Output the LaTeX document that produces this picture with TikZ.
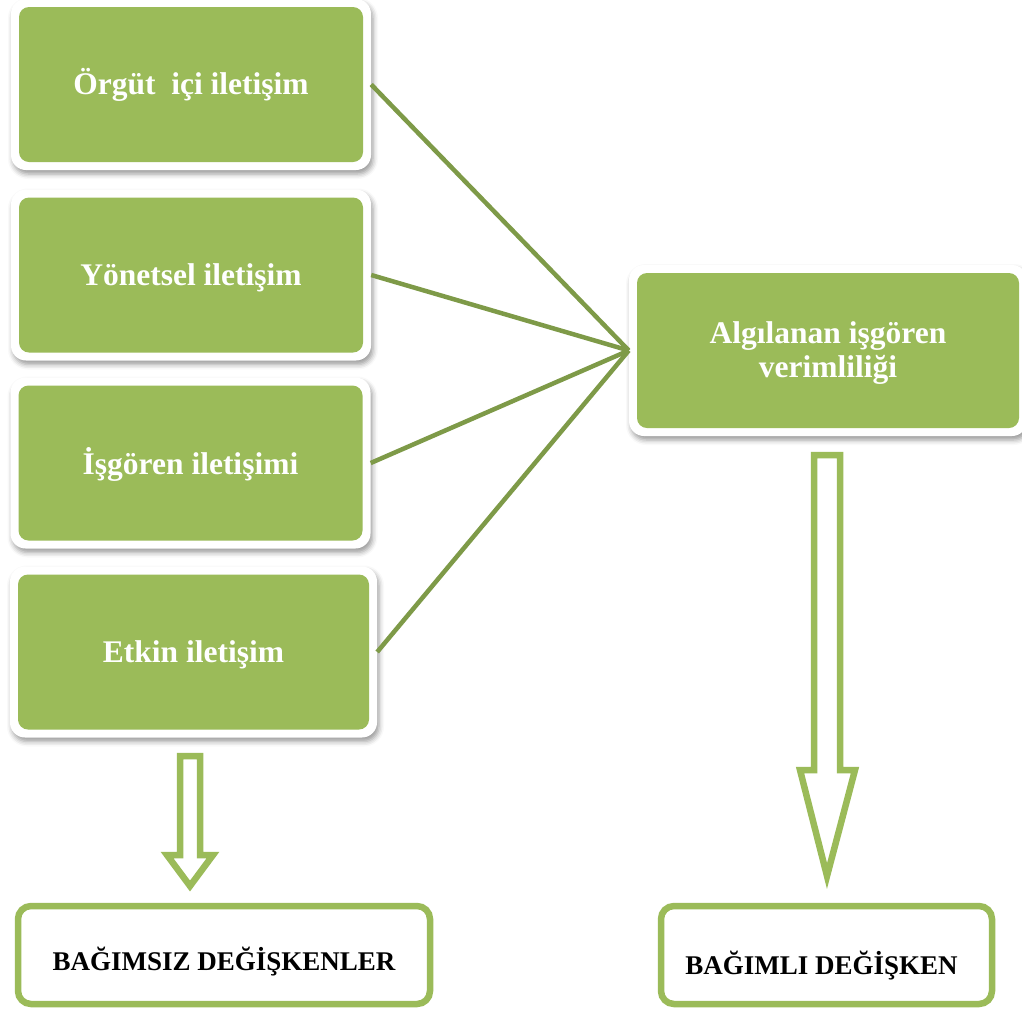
\documentclass[tikz,border=0pt]{standalone}
\usepackage{fontspec}
\setmainfont{Liberation Serif}
\usetikzlibrary{shadows.blur,calc}
\definecolor{leaf}{HTML}{9BBB59}
\definecolor{linkgreen}{HTML}{7E9A48}
\begin{document}
\begin{tikzpicture}[x=1pt,y=-1pt,
  cardframe/.style={rectangle, rounded corners=15pt, fill=white, inner sep=0pt,
    minimum width=#1+16pt, minimum height=171pt,
    blur shadow={shadow xshift=2pt, shadow yshift=-4pt, shadow blur radius=5pt, shadow opacity=40}},
  cardframe/.default=344pt,
  cardface/.style={rectangle, rounded corners=10pt, fill=leaf, inner sep=0pt,
    minimum width=#1, minimum height=155pt, text=white, align=center,
    font=\fontsize{31.5}{34}\selectfont\bfseries},
  cardface/.default=344pt,
  cardtext/.style={text=white, align=center, inner sep=0pt,
    font=\fontsize{31.5}{34}\selectfont\bfseries},
  link/.style={draw=linkgreen, line width=4.5pt},
  labelbox/.style={rectangle, draw=leaf, line width=6.5pt, rounded corners=13pt,
    fill=white, inner sep=0pt, minimum height=98pt},
  labeltext/.style={font=\fontsize{27}{30}\selectfont\bfseries, text=black},
  hollow/.style={draw=leaf, line width=6.5pt, fill=white, miter limit=10}]
\useasboundingbox (0,0) rectangle (1022,1010);

% independent variables: white framed green cards
\node[cardframe] (b1) at (191,84.5) {};
\node[cardface] (f1) at (b1.center) {};
\node[cardtext] at ($(f1.center)+(0,0)$) {Örgüt\ \ içi iletişim};
\node[cardframe] (b2) at (191,275) {};
\node[cardface] (f2) at (b2.center) {};
\node[cardtext] at ($(f2.center)+(0,3)$) {Yönetsel iletişim};
\node[cardframe] (b3) at (190.5,463) {};
\node[cardface] (f3) at (b3.center) {};
\node[cardtext] at ($(f3.center)+(0,1)$) {İşgören iletişimi};
\node[cardframe=351pt] (b4) at (193.5,652) {};
\node[cardface=351pt] (f4) at (b4.center) {};
\node[cardtext] at ($(f4.center)+(0,3)$) {Etkin iletişim};

% dependent variable
\node[cardframe=382pt] (alg) at (828,350.5) {};
\node[cardface=382pt] (fa) at (alg.center) {};
\node[cardtext] at ($(fa.center)+(0,3)$) {Algılanan işgören\\verimliliği};

% connectors
\draw[link] (b1.east) -- (alg.west);
\draw[link] (b2.east) -- (alg.west);
\draw[link] (b3.east) -- (alg.west);
\draw[link] (b4.east) -- (alg.west);

% hollow block arrows
\draw[hollow] (180,756) -- (200,756) -- (200,855) -- (213,855) -- (190,886)
  -- (167,855) -- (180,855) -- cycle;
\draw[hollow] (814,455) -- (840,455) -- (840,770) -- (855,770) -- (827,876)
  -- (800,770) -- (814,770) -- cycle;

% category labels
\node[labelbox, minimum width=412pt] (ind) at (224,955) {};
\node[labeltext] at ($(ind.center)+(0,7)$) {BAĞIMSIZ DEĞİŞKENLER};
\node[labelbox, minimum width=331pt] (dep) at (826.5,955) {};
\node[labeltext] at ($(dep.center)+(-5,11)$) {BAĞIMLI DEĞİŞKEN};
\end{tikzpicture}
\end{document}
